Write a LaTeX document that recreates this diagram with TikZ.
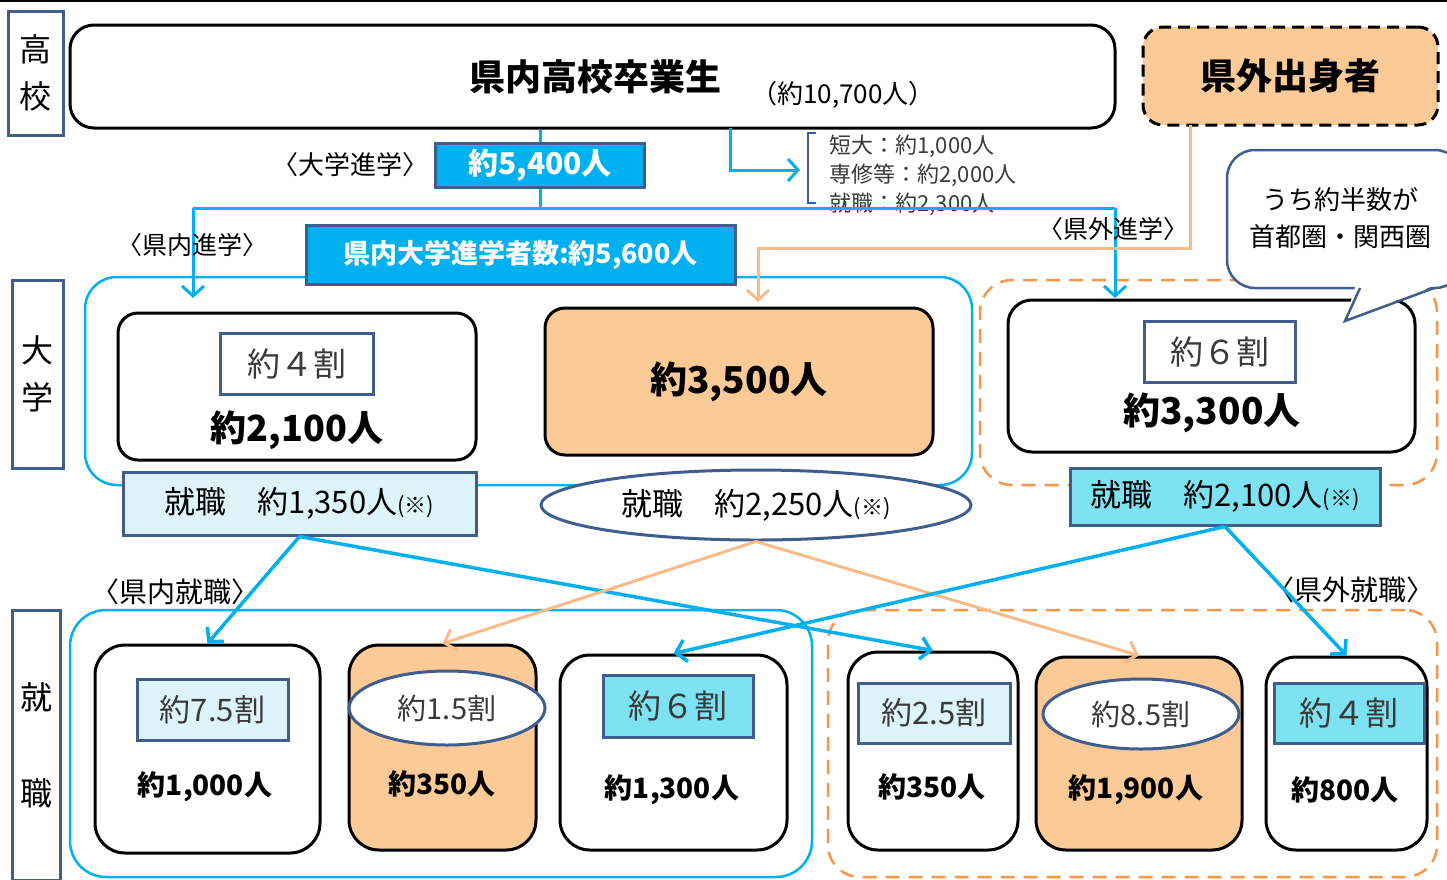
\documentclass[tikz,border=0pt]{standalone}
\usepackage{fontspec}
\setmainfont{Noto Sans CJK JP}
\usetikzlibrary{arrows.meta,shapes.geometric}
\definecolor{skyblue}{HTML}{00B0F0}
\definecolor{navy}{HTML}{3F5E8E}
\definecolor{peach}{HTML}{FBCA97}
\definecolor{peachline}{HTML}{F8BC8A}
\definecolor{dashorange}{HTML}{F79646}
\definecolor{paleblue}{HTML}{DDF5FA}
\definecolor{cyanfill}{HTML}{7DE2F2}
\definecolor{greytext}{HTML}{3A3A3A}
\newcommand{\fsz}[1]{\fontsize{#1}{#1}\selectfont}
\begin{document}
\begin{tikzpicture}
[x=1pt,y=-1pt,
  sidedecorate/.style={draw=navy,line width=3pt,fill=white,inner sep=0pt,align=center,font=\fontsize{32}{47}\selectfont},
  boxdecorate/.style={draw=black,line width=3pt,rounded corners=24pt,fill=white,inner sep=0pt},
  groupdecorate/.style={draw=skyblue,line width=2.5pt,rounded corners=32pt,inner sep=0pt},
  outsidedecorate/.style={draw=dashorange,line width=2.5pt,dash pattern=on 14pt off 9pt,rounded corners=32pt,inner sep=0pt},
  tagdecorate/.style={draw=navy,line width=3pt,fill=white,inner sep=0pt,text=greytext,font=\fsz{33}},
  ovaldecorate/.style={ellipse,draw=navy,line width=3pt,fill=white,inner sep=0pt},
  numdecorate/.style={draw=navy,line width=3pt,fill=skyblue,inner sep=0pt,text=white,font=\bfseries\fsz{30}},
  arrowdecorate/.style={-{Straight Barb[length=10pt,width=22pt]},draw=skyblue,line width=3.5pt},
  peacharrow/.style={-{Straight Barb[length=10pt,width=22pt]},draw=peachline,line width=3pt}]
\useasboundingbox (0,0) rectangle (1447,879);
\clip (0,0) rectangle (1447,879);
\fill[white] (0,0) rectangle (1447,879);
\draw[line width=2pt] (0,1) -- (1447,1);
% side labels
\node (hsl) at (35.5,73) [sidedecorate,minimum width=55,minimum height=124] {高\\校};
\node (unl) at (37.5,374) [sidedecorate,minimum width=51,minimum height=188] {大\\学};
\node (jbl) at (36,745) [sidedecorate,minimum width=48,minimum height=270] {就\\[49pt]職};
% high school graduates
\node (grad) at (592.5,76.5) [boxdecorate,minimum width=1045,minimum height=103] {};
\node (gradt) at (595,77) [font=\bfseries\fsz{36}] {県内高校卒業生};
\node (gradn) at (843,95) [font=\fsz{26}] {（約10,700人）};
\node (outp) at (1290.5,76) [boxdecorate,fill=peach,rounded corners=20pt,dash pattern=on 12pt off 7pt,minimum width=295,minimum height=98,font=\bfseries\fsz{36}] {県外出身者};
% containers (university)
\node (cont1) at (528.5,381) [groupdecorate,minimum width=887,minimum height=208] {};
\node (cont2) at (1208.5,382.5) [outsidedecorate,minimum width=457,minimum height=205] {};
% university entrance
\node (n54) at (540,165) [numdecorate,minimum width=209,minimum height=44] {約5,400人};
\node (n54l) at (350,165) [font=\fsz{26}] {〈大学進学〉};
\coordinate (lj) at (193,208);
\coordinate (rj) at (1115,208);
\coordinate (la) at (193,298);
\coordinate (ra) at (1115,298);
\coordinate (s0) at (730,128);
\coordinate (s1) at (800,170);
\draw[navy,line width=1.2pt] (816,133) -- (808,133) -- (808,203) -- (816,203);
\node (jc) at (826,146) [anchor=west,font=\fsz{22},text=greytext] {短大：約1,000人};
\node (sc) at (826,175) [anchor=west,font=\fsz{22},text=greytext] {専修等：約2,000人};
\node (wk) at (826,204) [anchor=west,font=\fsz{22},text=greytext] {就職：約2,300人};
\draw[skyblue,line width=3pt] (n54.north |- grad.south) -- (n54.north) (n54.south) -- (n54.south |- lj);
\draw[skyblue,line width=3pt] (lj) -- (rj);
\draw[arrowdecorate,line width=3pt] (lj) -- (la);
\draw[arrowdecorate,line width=3pt] (rj) -- (ra);
\draw[arrowdecorate,line width=3pt] (s0) |- (s1);
\node (inl) at (192,245) [font=\fsz{25}] {〈県内進学〉};
\node (outl) at (1113,229) [font=\fsz{25}] {〈県外進学〉};
\node (n56) at (520.5,254.5) [numdecorate,minimum width=429,minimum height=59,font=\bfseries\fsz{27}] {県内大学進学者数:約5,600人};
\coordinate (o0) at (1190,125);
\coordinate (o1) at (758,248);
\coordinate (o2) at (758,302);
\draw[peacharrow] (o0) |- (o1) -- (o2);
% universities
\node (u1) at (297,386.5) [boxdecorate,rounded corners=20pt,minimum width=358,minimum height=147] {};
\node (r1) at (296.5,363.5) [tagdecorate,minimum width=153,minimum height=61] {約４割};
\node (t1) at (297,430) [font=\bfseries\fsz{36}] {約2,100人};
\node (u2) at (739,381.5) [boxdecorate,fill=peach,rounded corners=20pt,minimum width=388,minimum height=147,font=\bfseries\fsz{37}] {約3,500人};
\node (u3) at (1211.5,376) [boxdecorate,rounded corners=24pt,minimum width=407,minimum height=152] {};
\node (r3) at (1219.5,351.5) [tagdecorate,minimum width=151,minimum height=61] {約６割};
\node (t3) at (1212,413) [font=\bfseries\fsz{37}] {約3,300人};
% speech bubble
\node (bub) at (1345,219) [boxdecorate,draw=navy,line width=2.5pt,rounded corners=28pt,minimum width=236,minimum height=138] {};
\node (bubt) at (1340,218) [font=\fontsize{26}{37}\selectfont,align=center] {うち約半数が\\首都圏・関西圏};
\fill[white] (1356,284) -- (1345,321) -- (1438,284) -- cycle;
\draw[navy,line width=2.5pt] (1360,288) -- (1345,321) -- (1434,288);
% employment after university
\node (e1) at (299.5,503.5) [draw=navy,line width=3pt,fill=paleblue,inner sep=0pt,minimum width=353,minimum height=63,font=\fsz{31}] {就職　約1,350人{\fsz{22}(※)}};
\node (e2) at (756,505) [ovaldecorate,minimum width=430,minimum height=70,font=\fsz{31}] {就職　約2,250人{\fsz{22}(※)}};
\node (e3) at (1225,496.5) [draw=navy,line width=3pt,fill=cyanfill,inner sep=0pt,minimum width=310,minimum height=57,font=\fsz{31}] {就職　約2,100人{\fsz{22}(※)}};
% containers (employment)
\node (cont3) at (441,743.5) [groupdecorate,rounded corners=36pt,minimum width=742,minimum height=267] {};
\node (cont4) at (1132.5,743.5) [outsidedecorate,minimum width=609,minimum height=267] {};
\node (inj) at (175,592) [font=\fsz{28}] {〈県内就職〉};
\node (outj) at (1350,590) [font=\fsz{28}] {〈県外就職〉};
% employment boxes
\node (b1) at (207.5,749) [boxdecorate,rounded corners=30pt,minimum width=225,minimum height=208] {};
\node (b2) at (442.5,747.5) [boxdecorate,fill=peach,rounded corners=30pt,minimum width=187,minimum height=205] {};
\node (b3) at (673.5,752.5) [boxdecorate,rounded corners=30pt,minimum width=227,minimum height=195] {};
\node (b4) at (933,751) [boxdecorate,rounded corners=30pt,minimum width=170,minimum height=198] {};
\node (b5) at (1139,753.5) [boxdecorate,fill=peach,rounded corners=30pt,minimum width=206,minimum height=193] {};
\node (b6) at (1346.5,753.5) [boxdecorate,rounded corners=30pt,minimum width=161,minimum height=193] {};
\node (p1) at (212.5,709.5) [tagdecorate,fill=paleblue,minimum width=151,minimum height=61,font=\fsz{31}] {約7.5割};
\node (p2) at (447,708) [ovaldecorate,text=greytext,minimum width=196,minimum height=74,font=\fsz{29}] {約1.5割};
\node (p3) at (678,706) [tagdecorate,fill=cyanfill,minimum width=150,minimum height=62] {約６割};
\node (p4) at (934,713) [tagdecorate,fill=paleblue,minimum width=152,minimum height=60,font=\fsz{31}] {約2.5割};
\node (p5) at (1141,714) [ovaldecorate,text=greytext,minimum width=196,minimum height=70,font=\fsz{29}] {約8.5割};
\node (p6) at (1349,713) [tagdecorate,fill=cyanfill,minimum width=150,minimum height=60] {約４割};
\node (c1) at (205,787) [font=\bfseries\fsz{28}] {約1,000人};
\node (c2) at (442,784) [font=\bfseries\fsz{28}] {約350人};
\node (c3) at (672,790) [font=\bfseries\fsz{28}] {約1,300人};
\node (c4) at (932,787) [font=\bfseries\fsz{28}] {約350人};
\node (c5) at (1136,790) [font=\bfseries\fsz{28}] {約1,900人};
\node (c6) at (1345,790) [font=\bfseries\fsz{28}] {約800人};
% employment arrows
\path
(e1.south) edge[arrowdecorate] (b1.north)
(e1.south) edge[arrowdecorate] (b4.north)
(e2.south) edge[peacharrow] (b2.north)
(e2.south) edge[peacharrow] (b5.north)
(e3.south) edge[arrowdecorate] (b3.north)
(e3.south) edge[arrowdecorate] (b6.north);
\end{tikzpicture}
\end{document}
